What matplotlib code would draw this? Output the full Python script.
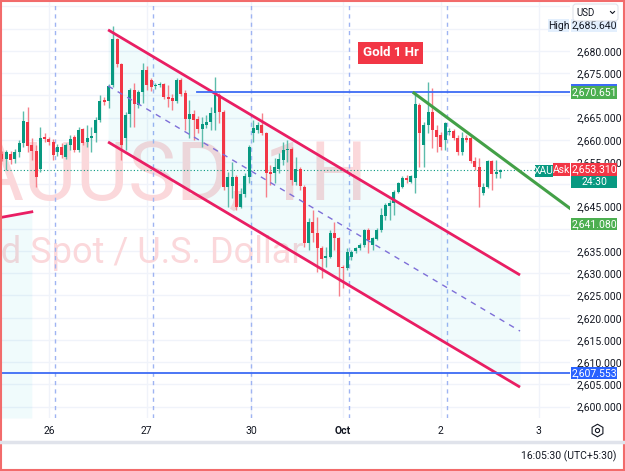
import matplotlib.pyplot as plt
import numpy as np
from matplotlib.patches import Rectangle, FancyBboxPatch

plt.rcParams['font.family'] = ['Roboto', 'DejaVu Sans']

# hourly XAUUSD candles (oldest first)
opens = [
    2656.8, 2655.7, 2656.8, 2655.7, 2657.2, 2659.3, 2664.0, 2658.8, 2657.5, 2653.4,
    2660.6, 2660.2, 2659.5, 2657.2, 2658.4, 2656.1, 2658.8, 2660.6, 2657.7, 2662.4,
    2659.5, 2660.4, 2661.5, 2664.4, 2668.9, 2668.7, 2672.3, 2682.6, 2677.0, 2660.4,
    2665.8, 2671.2, 2667.8, 2670.7, 2675.7, 2673.4, 2672.1, 2672.3, 2672.5, 2669.6,
    2669.4, 2668.7, 2673.4, 2670.5, 2664.7, 2665.8, 2664.7, 2662.4, 2663.3, 2664.0,
    2666.0, 2670.0, 2666.2, 2649.4, 2649.6, 2651.6, 2644.9, 2647.8, 2651.6, 2661.5,
    2662.2, 2663.3, 2661.5, 2652.7, 2652.5, 2653.4, 2655.4, 2657.7, 2657.9, 2650.5,
    2653.4, 2649.4, 2636.8, 2641.5, 2639.0, 2635.7, 2633.4, 2633.6, 2639.0, 2637.9,
    2631.4, 2631.2, 2633.6, 2635.0, 2635.7, 2636.3, 2639.7, 2636.3, 2637.7, 2639.7,
    2642.8, 2645.1, 2645.8, 2648.3, 2649.4, 2651.4, 2650.5, 2651.4, 2667.8, 2658.8,
    2663.3, 2666.2, 2662.2, 2661.1, 2659.9, 2661.7, 2661.9, 2660.4, 2657.2, 2660.4,
    2660.4, 2655.2, 2653.9, 2648.0, 2649.4, 2655.2, 2652.3, 2652.7]
highs = [
    2657.5, 2657.7, 2657.5, 2657.9, 2659.9, 2666.5, 2667.3, 2660.4, 2658.8, 2662.9,
    2661.5, 2660.6, 2660.2, 2659.0, 2659.3, 2659.3, 2661.1, 2661.1, 2662.9, 2662.6,
    2663.3, 2662.9, 2665.1, 2670.0, 2669.6, 2672.5, 2685.6, 2682.9, 2677.2, 2666.2,
    2671.6, 2672.7, 2671.2, 2677.2, 2676.6, 2673.9, 2672.7, 2673.0, 2672.7, 2672.3,
    2670.3, 2673.9, 2673.9, 2671.2, 2668.9, 2666.7, 2665.3, 2665.1, 2665.6, 2667.3,
    2674.1, 2670.5, 2666.7, 2652.7, 2655.0, 2652.1, 2649.1, 2652.5, 2658.8, 2664.4,
    2664.0, 2666.0, 2661.7, 2654.3, 2655.9, 2657.0, 2659.5, 2659.9, 2658.4, 2656.1,
    2653.9, 2649.8, 2642.4, 2644.2, 2642.6, 2636.1, 2635.9, 2639.7, 2641.5, 2638.1,
    2631.8, 2635.7, 2635.2, 2635.9, 2636.8, 2639.9, 2640.1, 2638.1, 2640.1, 2644.6,
    2645.8, 2646.4, 2648.7, 2650.5, 2651.8, 2652.1, 2652.1, 2670.5, 2668.2, 2664.0,
    2673.0, 2671.6, 2663.3, 2661.7, 2664.0, 2662.6, 2662.4, 2661.1, 2661.7, 2661.1,
    2661.1, 2656.1, 2655.9, 2650.3, 2655.4, 2655.4, 2655.4, 2653.5]
lows = [
    2655.2, 2653.2, 2654.5, 2654.8, 2656.1, 2658.4, 2657.2, 2655.4, 2649.4, 2652.7,
    2659.5, 2658.8, 2655.4, 2656.3, 2655.9, 2655.7, 2657.7, 2657.2, 2657.2, 2658.8,
    2658.4, 2657.2, 2659.5, 2664.0, 2667.8, 2667.1, 2671.8, 2676.3, 2655.4, 2657.7,
    2662.9, 2662.9, 2667.1, 2668.2, 2671.2, 2670.9, 2671.4, 2671.8, 2669.1, 2667.3,
    2666.7, 2668.2, 2669.8, 2662.2, 2660.4, 2659.9, 2661.5, 2658.4, 2662.6, 2662.2,
    2662.2, 2663.8, 2648.7, 2644.9, 2646.9, 2644.2, 2644.6, 2647.1, 2650.3, 2659.5,
    2661.5, 2661.1, 2647.1, 2649.8, 2650.3, 2652.5, 2654.3, 2655.0, 2649.8, 2649.8,
    2648.7, 2635.9, 2635.2, 2637.0, 2630.3, 2628.9, 2631.4, 2633.4, 2635.2, 2624.9,
    2626.7, 2630.7, 2633.0, 2634.5, 2635.2, 2635.9, 2634.5, 2635.2, 2637.5, 2639.2,
    2641.9, 2641.9, 2643.1, 2648.0, 2649.1, 2650.3, 2650.3, 2648.0, 2653.9, 2653.9,
    2661.5, 2658.1, 2657.2, 2657.7, 2657.7, 2661.1, 2659.9, 2656.6, 2656.6, 2659.5,
    2654.8, 2653.2, 2644.9, 2647.6, 2649.1, 2648.7, 2651.4, 2651.4]
closes = [
    2655.7, 2657.2, 2655.4, 2657.2, 2659.3, 2664.2, 2658.6, 2657.5, 2651.6, 2660.4,
    2660.2, 2659.5, 2656.6, 2658.4, 2656.6, 2658.8, 2660.2, 2657.7, 2662.2, 2659.3,
    2660.4, 2660.8, 2664.4, 2668.7, 2668.5, 2672.1, 2682.6, 2677.0, 2658.8, 2665.6,
    2671.2, 2668.0, 2670.7, 2675.7, 2672.3, 2671.8, 2672.3, 2672.5, 2669.6, 2669.1,
    2668.7, 2673.4, 2670.3, 2664.7, 2665.8, 2664.4, 2662.4, 2663.5, 2664.0, 2666.0,
    2670.0, 2666.2, 2649.4, 2651.6, 2651.6, 2644.9, 2647.8, 2651.8, 2658.4, 2662.6,
    2663.3, 2661.5, 2652.5, 2652.3, 2653.9, 2655.7, 2657.7, 2657.9, 2650.9, 2653.4,
    2649.6, 2636.8, 2641.5, 2639.0, 2635.7, 2633.2, 2633.9, 2639.0, 2637.9, 2631.4,
    2631.2, 2634.8, 2634.8, 2635.7, 2636.3, 2639.7, 2637.5, 2637.9, 2639.7, 2643.1,
    2645.3, 2645.8, 2648.3, 2650.3, 2651.4, 2650.9, 2651.8, 2668.0, 2661.5, 2663.3,
    2666.2, 2662.2, 2660.6, 2658.4, 2663.8, 2661.9, 2660.4, 2657.2, 2660.4, 2659.9,
    2655.2, 2653.9, 2649.4, 2649.4, 2655.2, 2652.3, 2652.7, 2653.31]

# day labels on the time scale (bar index) and session breaks
day_ticks = [11, 34, 58.5, 80, 103, 126]
day_labels = ['26', '27', '30', 'Oct', '2', '3']
session_breaks = [12.5, 35.5, 58.5, 81.5, 104.5]

# drawings: (bar index, price) end points
chan_upper = ([24.9, 121.6], [2684.7, 2629.6])
chan_lower = ([24.9, 121.6], [2659.5, 2604.4])
chan_mid = ([24.9, 121.6], [2672.1, 2617.0])
old_chan = ([-0.47, 7.0], [2642.5, 2643.8])
green_trend = ([96.7, 133.3], [2670.5, 2644.6])
resistance = 2670.651
support = 2607.553
last_price = 2653.31
high_price = 2685.640
trend_tag = 2641.080
price_ticks = [2600, 2605, 2610, 2615, 2620, 2625, 2630, 2635, 2645,
               2655, 2660, 2665, 2675, 2680]

UP, DOWN = '#089981', '#f23645'
TEXT = '#131722'
W, H = 625, 471
PLOT_W, PLOT_H = 570, 418
XMIN, XMAX = -0.47, 133.33
YMIN, YMAX = 2597.46, 2691.41

fig = plt.figure(figsize=(W / 100, H / 100), dpi=100)
ax = fig.add_axes([0, 1 - PLOT_H / H, PLOT_W / W, PLOT_H / H])
ax.set_xlim(XMIN, XMAX)
ax.set_ylim(YMIN, YMAX)
ax.set_facecolor('white')
for s in ax.spines.values():
    s.set_visible(False)

# grid
for p in range(2600, 2695, 5):
    ax.axhline(p, color='#f0f3fa', lw=1, zorder=0)
for t in day_ticks:
    ax.axvline(t, color='#f0f3fa', lw=1, zorder=0)
for t in session_breaks:
    ax.axvline(t, color='#9fb4f2', lw=1, ls=(0, (3, 3)), zorder=1)

# watermark
ax.text(0.252, 0.522, 'XAUUSD, 1H', transform=ax.transAxes, ha='center',
        va='baseline', fontsize=58, color='#fbd8db', zorder=0.5)
ax.text(0.219, 0.371, 'Gold Spot / U.S. Dollar', transform=ax.transAxes,
        ha='center', va='baseline', fontsize=26, color='#fbd8db', zorder=0.5)

# channels
xs = np.array(chan_upper[0])
ax.fill_between(xs, chan_lower[1], chan_upper[1], color='#00bcd4', alpha=0.06,
                lw=0, zorder=1)
ax.plot(*chan_upper, color='#e91e63', lw=2, solid_capstyle='butt', zorder=4)
ax.plot(*chan_lower, color='#e91e63', lw=2, solid_capstyle='butt', zorder=4)
ax.plot(*chan_mid, color='#7e6fd8', lw=1, ls=(0, (4, 4)), zorder=4)
ax.fill_between(old_chan[0], [YMIN, YMIN], old_chan[1], color='#00bcd4',
                alpha=0.06, lw=0, zorder=1)
ax.plot(*old_chan, color='#e91e63', lw=2, zorder=4)

# horizontal levels
ax.plot([45.8, XMAX], [resistance, resistance], color='#3d6bf5', lw=1.3, zorder=4)
ax.axhline(support, color='#3d6bf5', lw=1.3, zorder=4)
ax.axhline(last_price, color=UP, lw=0.8, ls=(0, (1, 2)), zorder=2)
ax.plot(*green_trend, color='#43a047', lw=2.2, zorder=4)

# candles
o, h, l, c = map(np.array, (opens, highs, lows, closes))
idx = np.arange(len(o))
up = c >= o
h = np.maximum(h, np.maximum(o, c))
l = np.minimum(l, np.minimum(o, c))
ax.vlines(idx, l, h, colors=np.where(up, '#5cbcab', '#f6808a'), lw=1, zorder=3)
body = np.maximum(np.abs(c - o), 0.3)
ax.bar(idx, body, bottom=np.minimum(o, c), width=0.7,
       color=np.where(up, UP, DOWN), lw=0, zorder=3.5)

ax.text(91.2, 2679.5, 'Gold 1 Hr', ha='center', va='center', color='white',
        fontsize=9.5, fontweight='bold', zorder=6,
        bbox=dict(boxstyle='square,pad=0.35', fc=DOWN, ec='none'))

# axes ticks
ax.set_xticks(day_ticks, day_labels)
for lab in ax.get_xticklabels():
    if lab.get_text() == 'Oct':
        lab.set_fontweight('bold')
ax.tick_params(axis='x', length=0, pad=6, labelsize=7.5, colors=TEXT)
ax.yaxis.tick_right()
ax.set_yticks(price_ticks, [f'{p:,.3f}' for p in price_ticks])
ax.tick_params(axis='y', length=0, pad=5, labelsize=7.5, colors=TEXT)

# price-scale tags
side = fig.add_axes([0, 1 - PLOT_H / H, 1, PLOT_H / H], facecolor='none')
side.set_xlim(0, W)
side.set_ylim(YMIN, YMAX)
side.axis('off')
hh = 6.3 / 4.449


def tag(price, text, fc, tc='white', x0=571, w=46, dy=0.0):
    side.add_patch(Rectangle((x0, price - hh + dy), w, 2 * hh, fc=fc, ec='none',
                             zorder=5))
    side.text(x0 + w / 2, price + dy, text, ha='center', va='center',
              fontsize=7.5, color=tc, zorder=6)


tag(high_price, f'{high_price:,.3f}', '#e3effd', tc=TEXT)
tag(high_price, 'High', '#e3effd', tc=TEXT, x0=548, w=21)
side.add_patch(Rectangle((571, resistance - hh + 0.4), 46, 2 * hh, fc='#3d6bf5',
                         ec='none', zorder=5))
tag(resistance, f'{resistance:,.3f}', '#4caf50')
tag(trend_tag, f'{trend_tag:,.3f}', '#4caf50')
tag(support, f'{support:,.3f}', '#2962ff')
tag(last_price - 2 * hh, '24:30', UP)
tag(last_price, f'{last_price:,.3f}', DOWN)
tag(last_price - 0.3, 'XAU', UP, x0=535, w=18)
tag(last_price, 'Ask', DOWN, x0=553, w=17)

# chrome: USD box, settings icon, bottom bar, frame
ov = fig.add_axes([0, 0, 1, 1], facecolor='none')
ov.set_xlim(0, W)
ov.set_ylim(H, 0)
ov.axis('off')
ov.add_patch(FancyBboxPatch((573, 4), 45, 17, boxstyle='round,pad=0,rounding_size=3',
                            fc='white', ec='#e0e3eb', lw=0.8))
ov.text(576, 12.5, 'USD', ha='left', va='center', fontsize=7, color=TEXT)
ov.plot([610.5, 612.5, 614.5], [11.5, 13.5, 11.5], color=TEXT, lw=0.8)
ov.plot(597, 430, marker='h', ms=9, mfc='none', mec=TEXT, mew=0.8)
ov.plot(597, 430, marker='o', ms=3, mfc='none', mec=TEXT, mew=0.8)
ov.plot([0, W], [442, 442], color='#e0e3eb', lw=2.5)
ov.text(616, 456, '16:05:30 (UTC+5:30)', ha='right', va='center', fontsize=7.5,
        color=TEXT)
ov.add_patch(Rectangle((0.7, 0.7), W - 1.4, H - 1.4, fill=False, ec='#f26b6b',
                       lw=1.5))

fig.savefig('out.png', dpi=100)
